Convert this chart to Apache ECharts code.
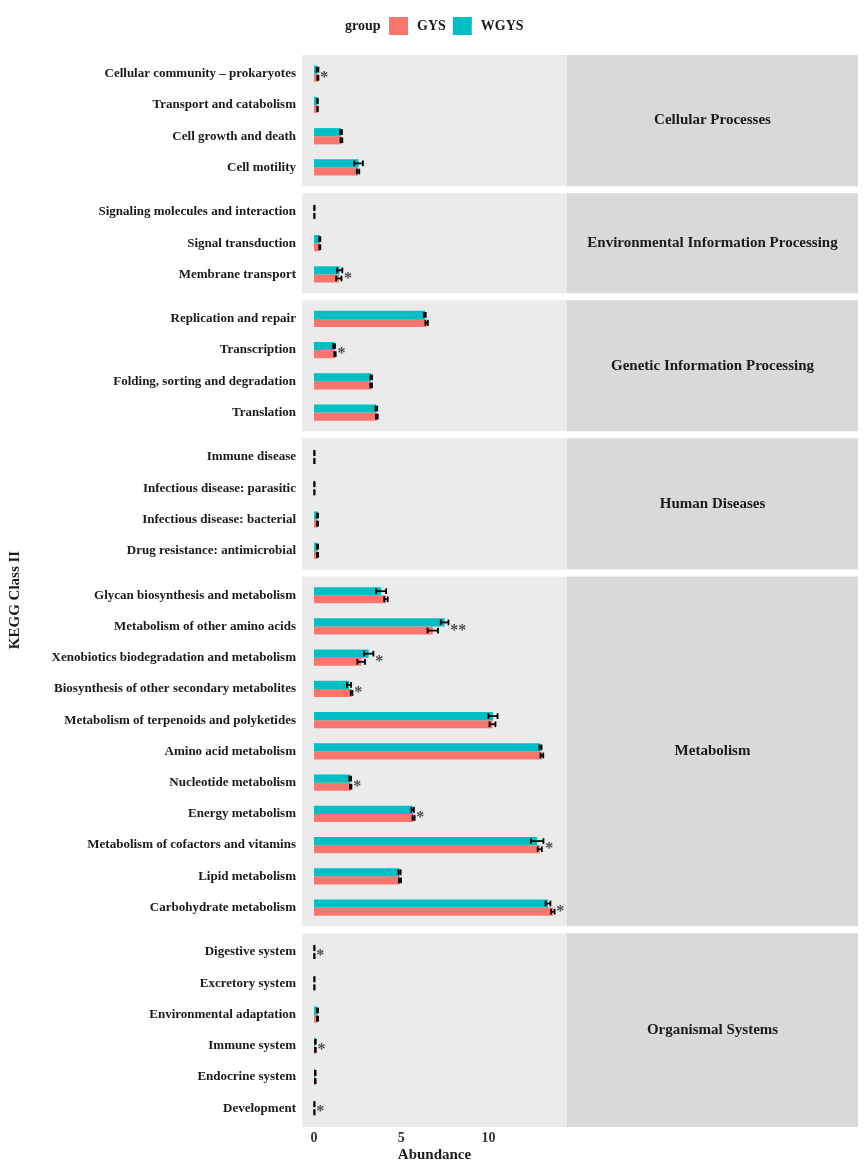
<!DOCTYPE html>
<html><head><meta charset="utf-8">
<script src="https://cdn.jsdelivr.net/npm/echarts@6/dist/echarts.min.js"></script>
<style>html,body{margin:0;padding:0;background:#fff}#c{width:865px;height:1165px}</style>
</head><body><div id="c"></div>
<script>
const panels = ['Cellular Processes','Environmental Information Processing','Genetic Information Processing','Human Diseases','Metabolism','Organismal Systems'];
const categories = [
  'Cellular community \u2013 prokaryotes','Transport and catabolism','Cell growth and death','Cell motility',
  'Signaling molecules and interaction','Signal transduction','Membrane transport',
  'Replication and repair','Transcription','Folding, sorting and degradation','Translation',
  'Immune disease','Infectious disease: parasitic','Infectious disease: bacterial','Drug resistance: antimicrobial',
  'Glycan biosynthesis and metabolism','Metabolism of other amino acids','Xenobiotics biodegradation and metabolism','Biosynthesis of other secondary metabolites','Metabolism of terpenoids and polyketides','Amino acid metabolism','Nucleotide metabolism','Energy metabolism','Metabolism of cofactors and vitamins','Lipid metabolism','Carbohydrate metabolism',
  'Digestive system','Excretory system','Environmental adaptation','Immune system','Endocrine system','Development'
];
const panelOf = [0,0,0,0, 1,1,1, 2,2,2,2, 3,3,3,3, 4,4,4,4,4,4,4,4,4,4,4, 5,5,5,5,5,5];
const gysMean  = [0.22,0.2,1.57,2.52, 0.02,0.33,1.42, 6.45,1.2,3.27,3.6, 0.02,0.02,0.2,0.2, 4.12,6.8,2.7,2.15,10.22,13.05,2.1,5.7,12.93,4.92,13.68, 0.02,0.02,0.2,0.08,0.07,0.02];
const gysSd    = [0.03,0.02,0.05,0.07, 0.01,0.03,0.15, 0.07,0.04,0.05,0.05, 0.01,0.01,0.03,0.03, 0.1,0.3,0.22,0.05,0.17,0.08,0.04,0.06,0.12,0.06,0.1, 0.01,0.01,0.03,0.02,0.02,0.01];
const wgysMean = [0.2,0.2,1.55,2.55, 0.02,0.33,1.47, 6.35,1.15,3.27,3.57, 0.02,0.02,0.2,0.2, 3.84,7.48,3.13,2.0,10.25,12.97,2.07,5.65,12.78,4.9,13.4, 0.02,0.02,0.2,0.08,0.07,0.02];
const wgysSd   = [0.05,0.02,0.05,0.25, 0.01,0.03,0.15, 0.05,0.05,0.05,0.05, 0.01,0.01,0.03,0.03, 0.29,0.22,0.27,0.12,0.26,0.06,0.05,0.07,0.36,0.06,0.14, 0.01,0.01,0.03,0.02,0.02,0.01];
const sigLabels = ['*','','','', '','','*', '','*','','', '','','','', '','**','*','*','','','*','*','*','','*', '*','','','*','','*'];
const xTicks = [0,5,10];
const groupNames = ['GYS','WGYS'];
const groupColors = ['#F8766D','#00BFC4'];

const FONT = '"Liberation Serif","Times New Roman",serif';
const chart = echarts.init(document.getElementById('c'));
const TOP = 55, BOTTOM = 1127, GAP = 7, LEFT = 302, PR = 567, SR = 858;
const XMIN = -0.69, XMAX = 14.49;
const counts = panels.map((_, p) => panelOf.filter(v => v === p).length);
const unit = (BOTTOM - TOP - GAP * (panels.length - 1)) / counts.reduce((a, c) => a + c + 0.2, 0);

const grids = [], xAxes = [], yAxes = [], series = [], graphics = [];
let y0 = TOP;
panels.forEach((pname, p) => {
  const n = counts[p];
  const h = (n + 0.2) * unit;
  const idx = categories.map((c, i) => i).filter(i => panelOf[i] === p);
  const last = p === panels.length - 1;
  graphics.push({type:'rect', z:-10, shape:{x:LEFT, y:y0, width:PR-LEFT, height:h}, style:{fill:'#ebebeb'}});
  graphics.push({type:'rect', z:-10, shape:{x:PR, y:y0, width:SR-PR, height:h}, style:{fill:'#d9d9d9'}});
  graphics.push({type:'text', z:5, x:(PR+SR)/2, y:y0+h/2, style:{text:pname, font:'bold 15px '+FONT, fill:'#1a1a1a', align:'center', verticalAlign:'middle'}});
  grids.push({left:LEFT, width:PR-LEFT, top:y0+0.1*unit, height:n*unit});
  xAxes.push({type:'value', gridIndex:p, min:XMIN, max:XMAX, splitLine:{show:false}, axisLine:{show:false}, axisTick:{show:false},
    axisLabel:{show:last, customValues:xTicks, margin:4+0.1*unit, fontFamily:FONT, fontWeight:'bold', fontSize:14, color:'#333'}});
  yAxes.push({type:'category', gridIndex:p, inverse:true, data:idx.map(i => categories[i]),
    axisLine:{show:false}, axisTick:{show:false}, splitLine:{show:false},
    axisLabel:{margin:6, fontFamily:FONT, fontWeight:'bold', fontSize:13, color:'#1a1a1a'}});
  [[gysMean, gysSd], [wgysMean, wgysSd]].forEach(([mArr, sArr], g) => {
    series.push({
      type:'custom', name:groupNames[g], xAxisIndex:p, yAxisIndex:p, itemStyle:{color:groupColors[g]},
      encode:{x:1, y:0},
      data: idx.map((i, k) => [k, mArr[i], sArr[i]]),
      renderItem(params, api) {
        const k = api.value(0), m = api.value(1), sd = api.value(2);
        const c0 = api.coord([0, k]), c1 = api.coord([m, k]);
        const band = api.size([0, 1])[1];
        const bh = band * 0.26;
        const cy = c0[1] + (g === 1 ? -bh/2 : bh/2);
        const lo = api.coord([m - sd, k])[0], hi = api.coord([m + sd, k])[0];
        const cap = bh * 0.7;
        const ls = {stroke:'#000', lineWidth:1.8};
        return {type:'group', children:[
          {type:'rect', shape:{x:c0[0], y:cy-bh/2, width:c1[0]-c0[0], height:bh}, style:{fill:groupColors[g]}},
          {type:'line', shape:{x1:lo, y1:cy, x2:hi, y2:cy}, style:ls},
          {type:'line', shape:{x1:lo, y1:cy-cap/2, x2:lo, y2:cy+cap/2}, style:ls},
          {type:'line', shape:{x1:hi, y1:cy-cap/2, x2:hi, y2:cy+cap/2}, style:ls}
        ]};
      }
    });
  });
  const sigIdx = idx.map((i, k) => [i, k]).filter(([i]) => sigLabels[i]);
  if (sigIdx.length) {
    series.push({
      type:'custom', name:'sig', xAxisIndex:p, yAxisIndex:p, encode:{x:1, y:0},
      data: sigIdx.map(([i, k]) => [k, Math.max(gysMean[i]+gysSd[i], wgysMean[i]+wgysSd[i]) + 0.1]),
      renderItem(params, api) {
        const k = api.value(0);
        const c = api.coord([api.value(1), k]);
        const i = sigIdx[params.dataIndex][0];
        return {type:'text', x:c[0], y:c[1]+4, style:{text:sigLabels[i], font:'bold 16px '+FONT, fill:'#4d4d4d', align:'left', verticalAlign:'middle'}};
      }
    });
  }
  y0 += h + GAP;
});

graphics.push({type:'text', x:15, y:600, rotation:Math.PI/2, style:{text:'KEGG Class II', font:'bold 15px '+FONT, fill:'#1a1a1a', align:'center', verticalAlign:'middle'}});
graphics.push({type:'text', x:(LEFT+PR)/2, y:1155, style:{text:'Abundance', font:'bold 15px '+FONT, fill:'#1a1a1a', align:'center', verticalAlign:'middle'}});
graphics.push({type:'text', x:345, y:26, style:{text:'group', font:'bold 14px '+FONT, fill:'#1a1a1a', align:'left', verticalAlign:'middle'}});

chart.setOption({
  backgroundColor:'#fff',
  animation:false,
  grid:grids, xAxis:xAxes, yAxis:yAxes, series:series, graphic:graphics,
  legend:{data:groupNames, left:389, top:17, padding:0, itemWidth:19, itemHeight:18, itemGap:7, icon:'rect',
    textStyle:{fontFamily:FONT, fontWeight:'bold', fontSize:14, color:'#1a1a1a', padding:[0,0,0,4]}}
});
</script></body></html>
